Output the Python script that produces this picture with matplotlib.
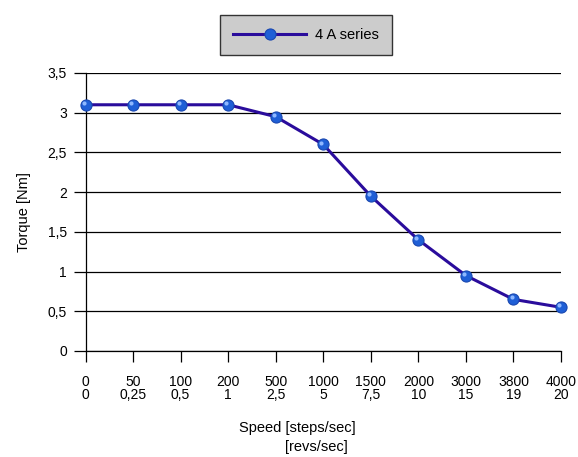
import numpy as np
import matplotlib.pyplot as plt

plt.rcParams['font.family'] = ['Liberation Sans', 'DejaVu Sans']

steps = ['0', '50', '100', '200', '500', '1000', '1500', '2000', '3000', '3800', '4000']
revs = ['0', '0,25', '0,5', '1', '2,5', '5', '7,5', '10', '15', '19', '20']
torque = [3.1, 3.1, 3.1, 3.1, 2.95, 2.6, 1.95, 1.4, 0.95, 0.65, 0.55]
yticks = [0, 0.5, 1, 1.5, 2, 2.5, 3, 3.5]

fig = plt.figure(figsize=(5.78, 4.57), dpi=100)
ax = fig.add_axes([85.5/578, 1-351/457, 475.5/578, 278/457])

x = np.arange(len(torque))
for v in yticks:
    ax.axhline(v, color='black', lw=0.9, zorder=1)
line, = ax.plot(x, torque, color='#2a0c9c', lw=2.2, marker='o', ms=8,
                mfc='#1f5fd6', mec='#1a48b0', mew=0.8, zorder=3, clip_on=False)
# highlight on the markers
ax.plot(x - 0.04, np.array(torque) + 0.025, ls='none', marker='o', ms=3,
        mfc='#8fb8ff', mec='none', zorder=4, clip_on=False)

ax.set_xlim(0, 10)
ax.set_ylim(0, 3.5)
ax.set_xticks(x)
ax.set_xticklabels([f'{a}\n{b}' for a, b in zip(steps, revs)], fontsize=10, linespacing=0.9)
ax.set_yticks(yticks)
ax.set_yticklabels([f'{v:g}'.replace('.', ',') for v in yticks], fontsize=10)
ax.tick_params(axis='x', direction='out', length=8, width=0.9, color='black', pad=9)
ax.tick_params(axis='y', direction='out', length=8.5, width=0.9, color='black', pad=5)
for s in ['top', 'right']:
    ax.spines[s].set_visible(False)
for s in ['left', 'bottom']:
    ax.spines[s].set_linewidth(0.9)

ax.set_ylabel('Torque [Nm]', fontsize=10.5, labelpad=12)
fig.text(297/578, 1-428/457, 'Speed [steps/sec]', fontsize=10.5, ha='center', va='center')
fig.text(316/578, 1-447/457, '[revs/sec]', fontsize=10.5, ha='center', va='center')

leg = fig.legend([line], ['4 A series'], loc='center', bbox_to_anchor=(306/578, 1-35/457),
                 fontsize=10.5, frameon=True, fancybox=False, facecolor='#cccccc',
                 edgecolor='#333333', handlelength=5, borderpad=0.9, handletextpad=0.6,
                 borderaxespad=0)
leg.get_frame().set_linewidth(1.0)
leg.get_frame().set_alpha(None)

fig.savefig('out.png', dpi=100)
